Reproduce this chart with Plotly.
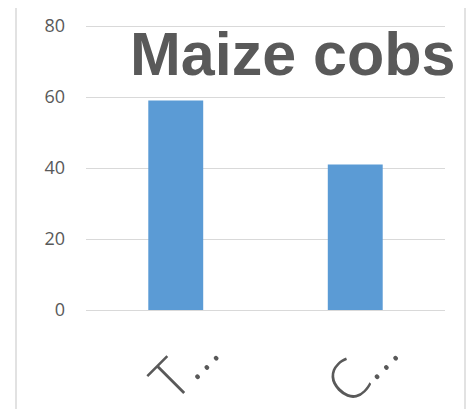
import plotly.graph_objects as go

categories = ["T…", "C…"]
values = [59, 41]
title_text = "Maize cobs"

# the page puts the plot 8px in from the top-left corner, so the figure is
# a bit smaller than the window and the margins are trimmed to suit
fig = go.Figure()

fig.add_trace(go.Bar(
    x=[0, 1],
    y=values,
    marker=dict(color="#5B9BD5", line=dict(width=0)),
    width=0.306,
    hoverinfo="skip"
))

fig.update_layout(
    width=466,
    height=401,
    margin=dict(l=78, r=29, t=15, b=99, autoexpand=False),
    paper_bgcolor="white",
    plot_bgcolor="white",
    showlegend=False,
    font=dict(family="Open Sans", color="#595959"),
    xaxis=dict(
        range=[-0.5, 1.5],
        tickmode="array",
        tickvals=[0, 1],
        ticktext=categories,
        tickangle=-45,
        tickfont=dict(size=55, family="Open Sans", weight=300, color="#595959"),
        showgrid=False,
        zeroline=False,
        showline=False,
        ticks="",
        automargin=False,
        ticklabelstandoff=-3,
        ticklabelshift=27,
    ),
    yaxis=dict(
        range=[0, 80.85],
        tickvals=[0, 20, 40, 60, 80],
        tickfont=dict(size=18, color="#595959"),
        showgrid=True,
        gridcolor="#D9D9D9",
        gridwidth=1,
        zeroline=True,
        zerolinecolor="#D9D9D9",
        zerolinewidth=1,
        showline=False,
        ticks="",
        automargin=False,
        ticklabelstandoff=20,
    ),
)

# outer chart border
fig.add_shape(
    type="rect", xref="paper", yref="paper",
    x0=-0.195, x1=1.0557, y0=-0.4, y1=1.0627,
    line=dict(color="#D9D9D9", width=1.5),
    fillcolor="rgba(0,0,0,0)", layer="below"
)

# faint beige slivers along the right edge (neighbouring panel)
for top, bot in [(1.08, 1.01), (0.948, 0.847), (0.812, 0.645),
                 (0.526, 0.366), (0.282, 0.143), (0.014, -0.108), (-0.200, -0.293)]:
    fig.add_shape(
        type="rect", xref="paper", yref="paper",
        x0=1.0724, x1=1.09, y0=bot, y1=top,
        line=dict(width=0), fillcolor="#F6F1E6", layer="below"
    )

fig.add_annotation(
    text=title_text,
    xref="paper", yref="paper",
    x=0.5766, y=0.892,
    xanchor="center", yanchor="middle",
    showarrow=False,
    font=dict(family="Liberation Sans", size=61, color="#595959", weight="bold"),
)

fig.write_html("out.html")
